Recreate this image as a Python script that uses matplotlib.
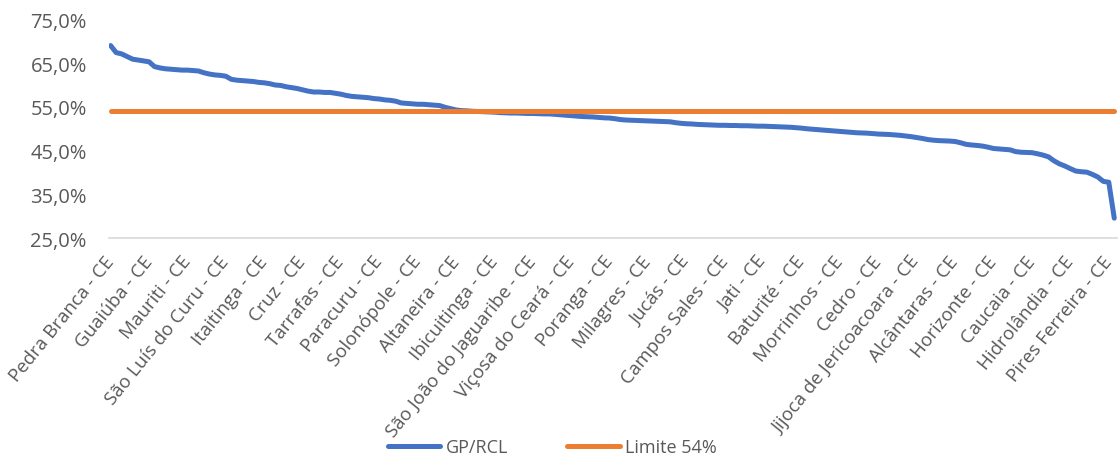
import matplotlib.pyplot as plt
from matplotlib.ticker import FuncFormatter

plt.rcParams['font.family'] = ['Open Sans', 'DejaVu Sans']

# GP/RCL por município (%), ordenado do maior para o menor
gp_rcl = [
    69.0, 67.4, 67.1, 66.5, 65.9, 65.7, 65.5, 65.3, 64.2, 63.9,
    63.7, 63.6, 63.5, 63.4, 63.4, 63.3, 63.2, 62.8, 62.5, 62.3,
    62.2, 62.0, 61.3, 61.1, 61.0, 60.9, 60.8, 60.6, 60.5, 60.3,
    60.0, 59.9, 59.6, 59.4, 59.2, 58.9, 58.6, 58.4, 58.4, 58.3,
    58.3, 58.1, 57.9, 57.6, 57.4, 57.3, 57.2, 57.1, 56.9, 56.8,
    56.6, 56.5, 56.3, 55.9, 55.8, 55.7, 55.6, 55.6, 55.5, 55.4,
    55.3, 54.9, 54.6, 54.3, 54.15, 54.1, 54.0, 53.95, 53.9, 53.85,
    53.8, 53.7, 53.65, 53.6, 53.6, 53.55, 53.5, 53.5, 53.45, 53.4,
    53.4, 53.3, 53.2, 53.1, 53.0, 52.9, 52.8, 52.75, 52.7, 52.6,
    52.5, 52.45, 52.3, 52.1, 52.0, 51.95, 51.9, 51.85, 51.8, 51.75,
    51.7, 51.65, 51.6, 51.4, 51.25, 51.15, 51.1, 51.0, 50.95, 50.9,
    50.85, 50.8, 50.8, 50.75, 50.75, 50.7, 50.7, 50.65, 50.6, 50.6,
    50.55, 50.5, 50.45, 50.4, 50.35, 50.25, 50.15, 50.0, 49.9, 49.8,
    49.7, 49.6, 49.5, 49.4, 49.3, 49.2, 49.1, 49.05, 49.0, 48.9,
    48.8, 48.75, 48.7, 48.6, 48.5, 48.35, 48.2, 48.0, 47.8, 47.55,
    47.4, 47.3, 47.25, 47.2, 47.1, 46.8, 46.45, 46.3, 46.2, 46.05,
    45.8, 45.5, 45.4, 45.3, 45.2, 44.8, 44.65, 44.6, 44.55, 44.3,
    44.0, 43.6, 42.7, 42.0, 41.5, 40.9, 40.35, 40.2, 40.1, 39.6,
    39.0, 38.0, 37.8, 29.6,
]
limite = 54.0

# municípios exibidos no eixo (um a cada 7 posições)
rotulos = [
    "Pedra Branca - CE", "Guaiúba - CE", "Mauriti - CE", "São Luís do Curu - CE",
    "Itaitinga - CE", "Cruz - CE", "Tarrafas - CE", "Paracuru - CE",
    "Solonópole - CE", "Altaneira - CE", "Ibicuitinga - CE",
    "São João do Jaguaribe - CE", "Viçosa do Ceará - CE", "Poranga - CE",
    "Milagres - CE", "Jucás - CE", "Campos Sales - CE", "Jati - CE",
    "Baturité - CE", "Morrinhos - CE", "Cedro - CE",
    "Jijoca de Jericoacoara - CE", "Alcântaras - CE", "Horizonte - CE",
    "Caucaia - CE", "Hidrolândia - CE", "Pires Ferreira - CE",
]
passo = 7

cinza = '#595959'
x = list(range(len(gp_rcl)))

fig = plt.figure(figsize=(11.18, 4.64), dpi=100)
ax = fig.add_axes([109 / 1118, 224.7 / 464, 1008 / 1118, 219 / 464])

ax.plot(x, gp_rcl, color='#4472C4', lw=3.6, solid_capstyle='round',
        solid_joinstyle='round', label='GP/RCL', zorder=3)
ax.plot(x, [limite] * len(x), color='#ED7D31', lw=3.6,
        solid_capstyle='round', label='Limite 54%', zorder=4)

ax.set_xlim(-0.3, len(x) - 1 + 0.5)
ax.set_ylim(25, 75)
ax.set_yticks([25, 35, 45, 55, 65, 75])
ax.yaxis.set_major_formatter(FuncFormatter(lambda v, p: f"{v:.1f}%".replace('.', ',')))

ax.set_xticks(range(0, len(x), passo))
ax.set_xticklabels(rotulos, rotation=51, ha='right', va='center',
                   rotation_mode='anchor')

for s in ['top', 'right', 'left']:
    ax.spines[s].set_visible(False)
ax.spines['bottom'].set_color('#D9D9D9')
ax.spines['bottom'].set_linewidth(1.2)
ax.tick_params(axis='both', length=0, labelcolor=cinza)
ax.tick_params(axis='x', pad=14, labelsize=13.5)
ax.tick_params(axis='y', pad=16, labelsize=14.5)

fig.legend(loc='center', bbox_to_anchor=(0.494, 0.034), ncol=2, frameon=False,
           fontsize=13, labelcolor=cinza, handlelength=2.9,
           handletextpad=0.3, columnspacing=3.3)

plt.savefig('out.png', dpi=100)
